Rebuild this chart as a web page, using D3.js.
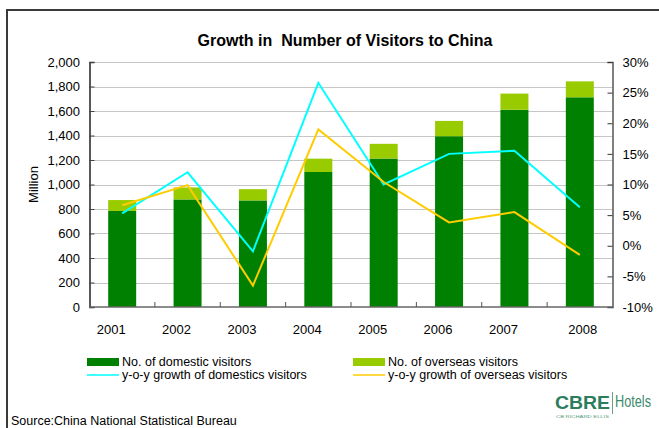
<!DOCTYPE html>
<html>
<head>
<meta charset="utf-8">
<script src="https://cdn.jsdelivr.net/npm/d3@7"></script>
<style>
  body { margin: 0; background: #fff; }
  svg { font-family: "Liberation Sans", Arial, sans-serif; display: block; }
</style>
</head>
<body>
<svg id="chart"></svg>
<script>
// Chart data
const years = ["2001", "2002", "2003", "2004", "2005", "2006", "2007", "2008"];
const domestic = [784, 878, 870, 1102, 1212, 1394, 1610, 1712];      // million
const overseas = [89, 98, 92, 109, 120, 125, 132, 130];              // million
const domesticGrowth = [5.3, 12.0, -0.9, 26.6, 10.0, 15.0, 15.5, 6.3];   // %
const overseasGrowth = [6.6, 9.9, -6.5, 19.0, 10.4, 3.8, 5.5, -1.5];     // %
const leftTicks = [0, 200, 400, 600, 800, 1000, 1200, 1400, 1600, 1800, 2000];
const rightTicks = [-10, -5, 0, 5, 10, 15, 20, 25, 30];
const seriesNames = ["No. of domestic visitors", "No. of overseas visitors",
    "y-o-y growth of domestics visitors", "y-o-y growth of overseas visitors"];

const width = 659;
const height = 428;
const colors = {
    domestic: "#008000",
    overseas: "#99cc00",
    domGrowth: "#00ffff",
    ovsGrowth: "#ffcc00"
};

const plot = { left: 89.5, right: 612.5, top: 62, bottom: 307 };

const svg = d3.select("#chart")
    .attr("width", width)
    .attr("height", height);

// outer frame (right and bottom fall outside the picture)
svg.append("rect")
    .attr("x", 7).attr("y", 10)
    .attr("width", 700).attr("height", 500)
    .attr("fill", "none")
    .attr("stroke", "#3a3a3a")
    .attr("stroke-width", 2);

svg.append("text")
    .attr("x", 345).attr("y", 46)
    .attr("text-anchor", "middle")
    .style("font-size", "16px")
    .style("font-weight", "bold")
    .attr("xml:space", "preserve")
    .text("Growth in  Number of Visitors to China");

const x = d3.scaleBand()
    .domain(years)
    .range([plot.left, plot.right])
    .paddingInner(0.572)
    .paddingOuter(0.286);

const y = d3.scaleLinear().domain([0, 2000]).range([plot.bottom, plot.top]);
const yR = d3.scaleLinear().domain([-10, 30]).range([plot.bottom, plot.top]);

// gridlines
svg.append("g")
    .selectAll("line")
    .data(leftTicks.filter(d => d > 0))
    .join("line")
    .attr("x1", plot.left).attr("x2", plot.right)
    .attr("y1", d => Math.round(y(d)) + 0.5)
    .attr("y2", d => Math.round(y(d)) + 0.5)
    .attr("stroke", "#c6c6c6")
    .attr("stroke-width", 1);

// stacked bars
const stack = d3.stack().keys(["domestic", "overseas"])(
    years.map((yr, i) => ({ year: yr, domestic: domestic[i], overseas: overseas[i] })));

svg.append("g")
    .selectAll("g")
    .data(stack)
    .join("g")
    .attr("fill", d => colors[d.key])
    .selectAll("rect")
    .data(d => d)
    .join("rect")
    .attr("x", d => x(d.data.year))
    .attr("width", x.bandwidth())
    .attr("y", d => y(d[1]))
    .attr("height", d => y(d[0]) - y(d[1]));

// growth lines
const line = d3.line()
    .x((d, i) => x(years[i]) + x.bandwidth() / 2)
    .y(d => yR(d));

svg.append("path")
    .datum(domesticGrowth)
    .attr("d", line)
    .attr("fill", "none")
    .attr("stroke", colors.domGrowth)
    .attr("stroke-width", 2);

svg.append("path")
    .datum(overseasGrowth)
    .attr("d", line)
    .attr("fill", "none")
    .attr("stroke", colors.ovsGrowth)
    .attr("stroke-width", 2);

// left axis
const gl = svg.append("g")
    .attr("transform", `translate(${plot.left},0)`)
    .call(d3.axisLeft(y).tickValues(leftTicks).tickFormat(d3.format(",")).tickSize(-5).tickPadding(9.5))
    .attr("font-family", null).attr("font-size", null);
gl.select(".domain").attr("stroke", "#222").attr("stroke-width", 1.5);
gl.selectAll(".tick line").attr("stroke", "#444");
gl.selectAll("text").style("font-size", "13px").attr("fill", "#000");

// right axis
const gr = svg.append("g")
    .attr("transform", `translate(${plot.right},0)`)
    .call(d3.axisRight(yR).tickValues(rightTicks).tickFormat(d => d + "%").tickSize(-5).tickPadding(10))
    .attr("font-family", null).attr("font-size", null);
gr.select(".domain").attr("stroke", "#555").attr("stroke-width", 1.5);
gr.selectAll(".tick line").attr("stroke", "#333");
gr.selectAll("text").style("font-size", "13px").attr("fill", "#000");

// bottom axis with ticks between categories
const gb = svg.append("g");
gb.append("line")
    .attr("x1", plot.left).attr("x2", plot.right)
    .attr("y1", plot.bottom).attr("y2", plot.bottom)
    .attr("stroke", "#666").attr("stroke-width", 1.5);
gb.selectAll(".sep")
    .data(years.slice(1))
    .join("line")
    .attr("class", "sep")
    .attr("x1", d => x(d) - (x.step() - x.bandwidth()) / 2)
    .attr("x2", d => x(d) - (x.step() - x.bandwidth()) / 2)
    .attr("y1", plot.bottom).attr("y2", plot.bottom - 5)
    .attr("stroke", "#555");
gb.selectAll(".lbl")
    .data(years)
    .join("text")
    .attr("class", "lbl")
    .attr("x", (d, i) => x(d) + x.bandwidth() / 2 + (i === years.length - 1 ? 3 : -11))
    .attr("y", 334)
    .attr("text-anchor", "middle")
    .style("font-size", "13px")
    .text(d => d);

// axis title
svg.append("text")
    .attr("transform", `translate(38,${(plot.top + plot.bottom) / 2}) rotate(-90)`)
    .attr("text-anchor", "middle")
    .style("font-size", "13px")
    .text("Million");

// legend
const legend = svg.append("g");
const legX = [87, 353];
const legY = [362, 375];
const legColors = [colors.domestic, colors.overseas, colors.domGrowth, colors.ovsGrowth];
seriesNames.forEach((name, i) => {
    const cx = legX[i % 2];
    const cy = legY[Math.floor(i / 2)];
    if (i < 2) {
        legend.append("rect")
            .attr("x", cx).attr("y", cy - 4)
            .attr("width", 32).attr("height", 8)
            .attr("fill", legColors[i]);
    } else {
        legend.append("line")
            .attr("x1", cx).attr("x2", cx + 32)
            .attr("y1", cy).attr("y2", cy)
            .attr("stroke", legColors[i])
            .attr("stroke-width", 1.5);
    }
    legend.append("text")
        .attr("x", cx + 35).attr("y", cy + 4)
        .style("font-size", "12.5px")
        .text(name);
});

// source
svg.append("text")
    .attr("x", 11).attr("y", 425)
    .style("font-size", "12.5px")
    .text("Source:China National Statistical Bureau");

// logo
const logo = svg.append("g");
logo.append("text")
    .attr("x", 555).attr("y", 409)
    .attr("textLength", 55)
    .attr("lengthAdjust", "spacingAndGlyphs")
    .style("font-size", "19px")
    .style("font-weight", "bold")
    .attr("fill", "#2b7d5e")
    .text("CBRE");
logo.append("line")
    .attr("x1", 612.5).attr("x2", 612.5)
    .attr("y1", 392).attr("y2", 414)
    .attr("stroke", "#6a9f8a").attr("stroke-width", 1);
logo.append("text")
    .attr("x", 615).attr("y", 407)
    .attr("textLength", 36)
    .attr("lengthAdjust", "spacingAndGlyphs")
    .style("font-size", "16px")
    .attr("fill", "#3a8a6c")
    .text("Hotels");
logo.append("text")
    .attr("x", 556).attr("y", 418)
    .attr("textLength", 53)
    .attr("lengthAdjust", "spacingAndGlyphs")
    .style("font-size", "3.5px")
    .attr("fill", "#5a9a80")
    .text("CB RICHARD ELLIS");
</script>
</body>
</html>
